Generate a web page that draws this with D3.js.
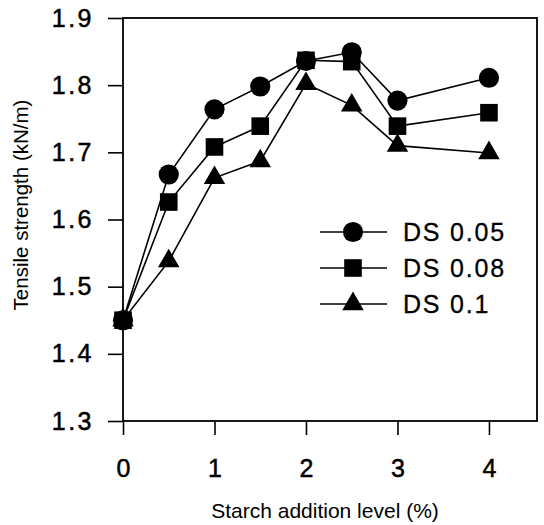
<!DOCTYPE html>
<html>
<head>
<meta charset="utf-8">
<script src="https://cdn.jsdelivr.net/npm/d3@7"></script>
<style>
  body { margin: 0; background: #fff; }
  text { font-family: "Liberation Sans", Arial, sans-serif; fill: #000; }
</style>
</head>
<body>
<svg id="chart"></svg>
<script>
// Data
const starchLevels = [0, 0.5, 1, 1.5, 2, 2.5, 3, 4];
const ds005 = [1.45, 1.667, 1.764, 1.798, 1.836, 1.849, 1.777, 1.811];
const ds008 = [1.45, 1.626, 1.708, 1.739, 1.837, 1.835, 1.739, 1.759];
const ds01  = [1.45, 1.538, 1.662, 1.687, 1.802, 1.770, 1.710, 1.699];
const xTicks = [0, 1, 2, 3, 4];
const yTicks = [1.3, 1.4, 1.5, 1.6, 1.7, 1.8, 1.9];

const series = [
  { name: 'DS 0.05', values: ds005, symbol: d3.symbolCircle, size: 320 },
  { name: 'DS 0.1', values: ds01, symbol: d3.symbolTriangle, size: 200 },
  { name: 'DS 0.08', values: ds008, symbol: d3.symbolSquare, size: 310 }
];
const legendOrder = ['DS 0.05', 'DS 0.08', 'DS 0.1'];

// Chart dimensions
const margin = { top: 18, right: 7, bottom: 104, left: 123 };
const W = 544, H = 525;
const width = W - margin.left - margin.right;
const height = H - margin.top - margin.bottom;

const svg = d3.select('#chart')
  .attr('width', W)
  .attr('height', H);

const g = svg.append('g')
  .attr('transform', `translate(${margin.left}, ${margin.top})`);

const xScale = d3.scaleLinear().domain([0, 4.525]).range([0, width]);
const yScale = d3.scaleLinear().domain([1.3, 1.9]).range([height, 0]);

// Axes
const xAxis = d3.axisBottom(xScale).tickValues(xTicks).tickSize(14).tickPadding(24)
  .tickFormat(d3.format('d'));
const yAxis = d3.axisLeft(yScale).tickValues(yTicks).tickSize(15).tickPadding(14)
  .tickFormat(d3.format('.1f'));

const gx = g.append('g')
  .attr('transform', `translate(0, ${height})`)
  .call(xAxis);
const gy = g.append('g').call(yAxis);

[gx, gy].forEach(a => {
  a.select('.domain').remove();
  a.selectAll('line').attr('stroke', '#000').attr('stroke-width', 1.6);
  a.selectAll('text')
    .style('font-size', '25px')
    .attr('fill', '#000')
    .attr('stroke', '#000')
    .attr('stroke-width', 0.5);
});
gy.selectAll('text').style('letter-spacing', '2.5px');

// Frame
g.append('rect')
  .attr('x', 0).attr('y', 0)
  .attr('width', width).attr('height', height)
  .attr('fill', 'none')
  .attr('stroke', '#000')
  .attr('stroke-width', 1.8);

// Lines and markers
const line = d3.line()
  .x((d, i) => xScale(starchLevels[i]))
  .y(d => yScale(d));

series.forEach(s => {
  g.append('path')
    .datum(s.values)
    .attr('d', line)
    .attr('fill', 'none')
    .attr('stroke', '#000')
    .attr('stroke-width', 1.6);
});

series.forEach(s => {
  g.selectAll(null)
    .data(s.values)
    .enter()
    .append('path')
    .attr('d', d3.symbol().type(s.symbol).size(s.size))
    .attr('transform', (d, i) => `translate(${xScale(starchLevels[i])}, ${yScale(d)})`)
    .attr('fill', '#000');
});

// Legend
const legend = g.append('g')
  .attr('transform', `translate(${197}, ${214})`);

legendOrder.forEach((name, i) => {
  const s = series.find(d => d.name === name);
  const row = legend.append('g').attr('transform', `translate(0, ${i * 36})`);
  row.append('line')
    .attr('x1', 0).attr('x2', 67)
    .attr('y1', 0).attr('y2', 0)
    .attr('stroke', '#000')
    .attr('stroke-width', 1.6);
  row.append('path')
    .attr('d', d3.symbol().type(s.symbol).size(s.size))
    .attr('transform', 'translate(33, 0)')
    .attr('fill', '#000');
  row.append('text')
    .attr('x', 83)
    .attr('y', 0)
    .attr('dy', '0.35em')
    .style('font-size', '25px')
    .style('letter-spacing', '1.8px')
    .attr('stroke', '#000')
    .attr('stroke-width', 0.3)
    .text(name);
});

// Axis titles
svg.append('text')
  .attr('x', 325)
  .attr('y', 518)
  .attr('text-anchor', 'middle')
  .style('font-size', '21px')
  .text('Starch addition level (%)');

svg.append('text')
  .attr('transform', `translate(28, 205) rotate(-90)`)
  .attr('text-anchor', 'middle')
  .style('font-size', '20.5px')
  .text('Tensile strength (kN/m)');
</script>
</body>
</html>
